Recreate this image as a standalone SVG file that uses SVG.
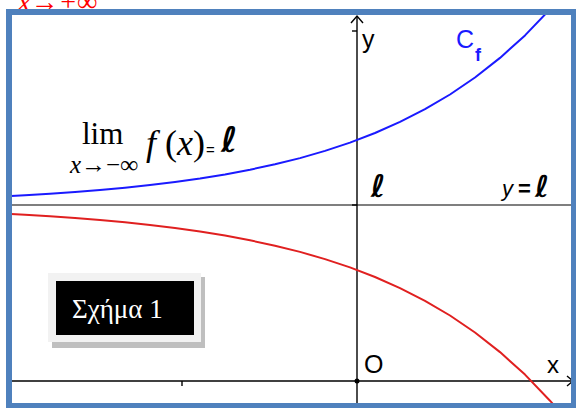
<svg xmlns="http://www.w3.org/2000/svg" width="576" height="408" viewBox="0 0 576 408">
<style>
.ax{stroke:#000;stroke-width:1.4;fill:none}
.crv{fill:none;stroke-width:2;stroke-linejoin:round;stroke-linecap:round}
.sans{font-family:"Liberation Sans",Arial,sans-serif}
.serif{font-family:"Liberation Serif","Times New Roman",serif}
.ell{font-family:"DejaVu Sans",sans-serif;font-style:oblique;font-weight:bold}
</style>
<defs>
<clipPath id="inner"><rect x="9" y="12" width="565" height="394"/></clipPath>
</defs>
<rect width="576" height="408" fill="#fff"/>
<text class="serif" x="18" y="11" font-size="28" font-style="italic" fill="#ff0000">x→+∞</text>
<g id="plot" clip-path="url(#inner)">
<g id="connectors">
<line x1="9" y1="205" x2="574" y2="205" stroke="#555" stroke-width="1.4"/>
<line class="ax" x1="352" y1="205" x2="357" y2="205"/>
<line class="ax" x1="9" y1="381" x2="574" y2="381"/>
<line class="ax" x1="357" y1="16" x2="357" y2="406"/>
<polyline class="ax" points="567,376 573,381 567,386"/>
<polyline class="ax" points="351,23 357,16 363,23"/>
<line class="ax" x1="352" y1="31" x2="357" y2="31"/>
<line class="ax" x1="182" y1="381" x2="182" y2="386"/>
<polyline class="crv" stroke="#1a1aff" points="11,196.0 25,195.2 50,193.7 75,192.0 100,190.0 125,187.7 150,185.1 175,182.0 200,178.5 225,174.4 250,169.7 275,164.3 300,158.1 325,150.9 350,142.6 375,133.0 400,121.9 425,109.2 450,94.5 475,77.5 500,57.9 525,35.4 550,9.3"/>
<polyline class="crv" stroke="#e02020" points="11,214.0 25,214.8 50,216.3 75,218.0 100,220.0 125,222.3 150,224.9 175,228.0 200,231.5 225,235.6 250,240.3 275,245.7 300,251.9 325,259.1 350,267.4 375,277.0 400,288.1 425,300.8 450,315.5 475,332.5 500,352.1 525,374.6 550,400.7 555,406.3"/>
</g>
<circle cx="357" cy="381" r="2.5" fill="#000"/>
</g>
<g id="labels">
<text class="sans" x="362" y="48" font-size="25">y</text>
<text class="sans" x="456" y="48" font-size="25" fill="#1a1aff">C</text>
<text class="sans" x="475" y="61" font-size="18" font-weight="bold" fill="#1a1aff">f</text>
<text class="ell" x="371" y="197" font-size="31">ℓ</text>
<text class="sans" x="502" y="196" font-size="22" font-style="italic">y</text>
<text class="sans" x="518" y="196" font-size="22" font-weight="bold">=</text>
<text class="ell" x="535" y="197" font-size="30">ℓ</text>
<text class="sans" x="364" y="373" font-size="25">O</text>
<text class="sans" x="547" y="373" font-size="24">x</text>
</g>
<g id="formula">
<text class="serif" x="82" y="144" font-size="31">lim</text>
<text class="serif" x="70" y="173" font-size="25" font-style="italic">x<tspan font-style="normal">→−</tspan>∞</text>
<text class="serif" x="146" y="155" font-size="36"><tspan font-style="italic">f</tspan> (<tspan font-style="italic">x</tspan>)</text>
<text class="sans" x="206" y="155" font-size="15">=</text>
<text class="ell" x="221" y="152" font-size="35">ℓ</text>
</g>
<g id="schema">
<rect x="52" y="277" width="153" height="71" fill="#bfbfbf"/>
<rect x="48" y="273" width="153" height="69" fill="#f2f2f2"/>
<rect x="56" y="281" width="138" height="54" fill="#000"/>
<text class="serif" x="72" y="318" font-size="27" fill="#fff">Σχήμα 1</text>
</g>
<rect id="frame" x="9" y="12" width="565" height="394" fill="none" stroke="#4f81bd" stroke-width="6"/>
</svg>
